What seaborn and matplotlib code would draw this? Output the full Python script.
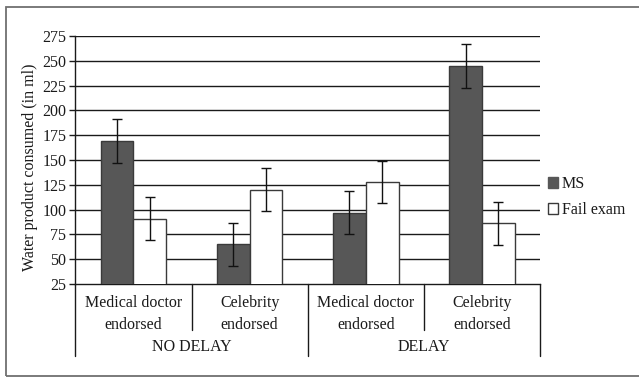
import numpy as np
import pandas as pd
import seaborn as sns
import matplotlib
matplotlib.use("Agg")
import matplotlib.pyplot as plt
from matplotlib.patches import Patch, Rectangle
import matplotlib.transforms as mtransforms

# Water consumed per condition (ml), with error bar half-widths
delay_labels = ["NO DELAY", "NO DELAY", "DELAY", "DELAY"]
endorser_labels = ["Medical doctor\nendorsed", "Celebrity\nendorsed",
                   "Medical doctor\nendorsed", "Celebrity\nendorsed"]
series_names = ["MS", "Fail exam"]
ms_values = [169, 65, 97, 245]
ms_errors = [22, 21.5, 21.5, 22]
fail_values = [91, 120, 128, 86]
fail_errors = [21.5, 21.5, 21, 22]
y_ticks = [25, 50, 75, 100, 125, 150, 175, 200, 225, 250, 275]

sns.set_style("white")
plt.rcParams["font.family"] = ["Liberation Serif", "DejaVu Serif"]
plt.rcParams["font.size"] = 11.5

conds = [f"{d}|{e}" for d, e in zip(delay_labels, endorser_labels)]
df = pd.DataFrame({
    "cond": conds * 2,
    "series": [series_names[0]] * 4 + [series_names[1]] * 4,
    "value": ms_values + fail_values,
})

W, H = 639, 377
fig = plt.figure(figsize=(W / 100, H / 100), dpi=100)
ax = fig.add_axes([75.4 / W, 1 - 284 / H, (540 - 75.4) / W, (284 - 36) / H])

dark = "#575757"
ink = "#1a1a1a"
sns.barplot(data=df, x="cond", y="value", hue="series", order=conds,
            hue_order=series_names, palette=[dark, "white"], width=0.565,
            errorbar=None, ax=ax, zorder=3, linewidth=1.0,
            edgecolor="#3a3a3a", saturation=1)
if ax.get_legend() is not None:
    ax.get_legend().remove()

# error bars centred on each bar
for container, vals, errs in zip(ax.containers, [ms_values, fail_values],
                                 [ms_errors, fail_errors]):
    xs = [b.get_x() + b.get_width() / 2 for b in container]
    ax.errorbar(xs, vals, yerr=errs, fmt="none", ecolor="#111111",
                elinewidth=1.0, capsize=3.8, capthick=1.0, zorder=4)

ax.set_ylim(25, 275)
ax.set_xlim(-0.5, 3.5)
ax.set_yticks(y_ticks)
ax.set_yticklabels([str(t) for t in y_ticks], color=ink)
ax.set_xticks([])
ax.set_xlabel("")
ax.set_ylabel("Water product consumed (in ml)", color=ink)
ax.yaxis.set_label_coords(-0.08, 0.472)

for t in y_ticks[1:]:
    ax.axhline(t, color=ink, lw=1.0, zorder=1)

for side in ["top", "right"]:
    ax.spines[side].set_visible(False)
for side in ["left", "bottom"]:
    ax.spines[side].set_color(ink)
    ax.spines[side].set_linewidth(1.0)
ax.tick_params(axis="y", direction="out", length=4.5, width=1.0,
               color=ink, pad=2, left=True)

# two-level category axis below the plot
trans = mtransforms.blended_transform_factory(ax.transData, ax.transAxes)
for x in [-0.5, 1.5, 3.5]:
    ax.plot([x, x], [0, -0.29], transform=trans, color=ink,
            lw=1.0, clip_on=False)
for x in [0.5, 2.5]:
    ax.plot([x, x], [0, -0.185], transform=trans, color=ink,
            lw=1.0, clip_on=False)
for i, lab in enumerate(endorser_labels):
    first, second = lab.split("\n")
    ax.text(i, -0.077, first, transform=trans, ha="center", va="center",
            color=ink)
    ax.text(i, -0.165, second, transform=trans, ha="center", va="center",
            color=ink)
for x, lab in [(0.5, delay_labels[0]), (2.5, delay_labels[2])]:
    ax.text(x, -0.254, lab, transform=trans, ha="center", va="center",
            color=ink)

handles = [Patch(facecolor=dark, edgecolor=dark, label=series_names[0]),
           Patch(facecolor="white", edgecolor="#3a3a3a", lw=1.0,
                 label=series_names[1])]
fig.legend(handles=handles, loc="center left",
           bbox_to_anchor=(548 / W, 1 - 197 / H), frameon=False,
           handlelength=0.65, handleheight=0.65, handletextpad=0.2,
           labelspacing=0.6, borderpad=0, borderaxespad=0,
           labelcolor=ink)

# outer frame (open on the right edge)
fig.patches.append(Rectangle((6 / W, 1.3 / H), 1.2, 1 - 7.3 / H - 1.3 / H,
                             transform=fig.transFigure, fill=False,
                             edgecolor="#707070", lw=1.3))

fig.savefig("out.png", dpi=100)
